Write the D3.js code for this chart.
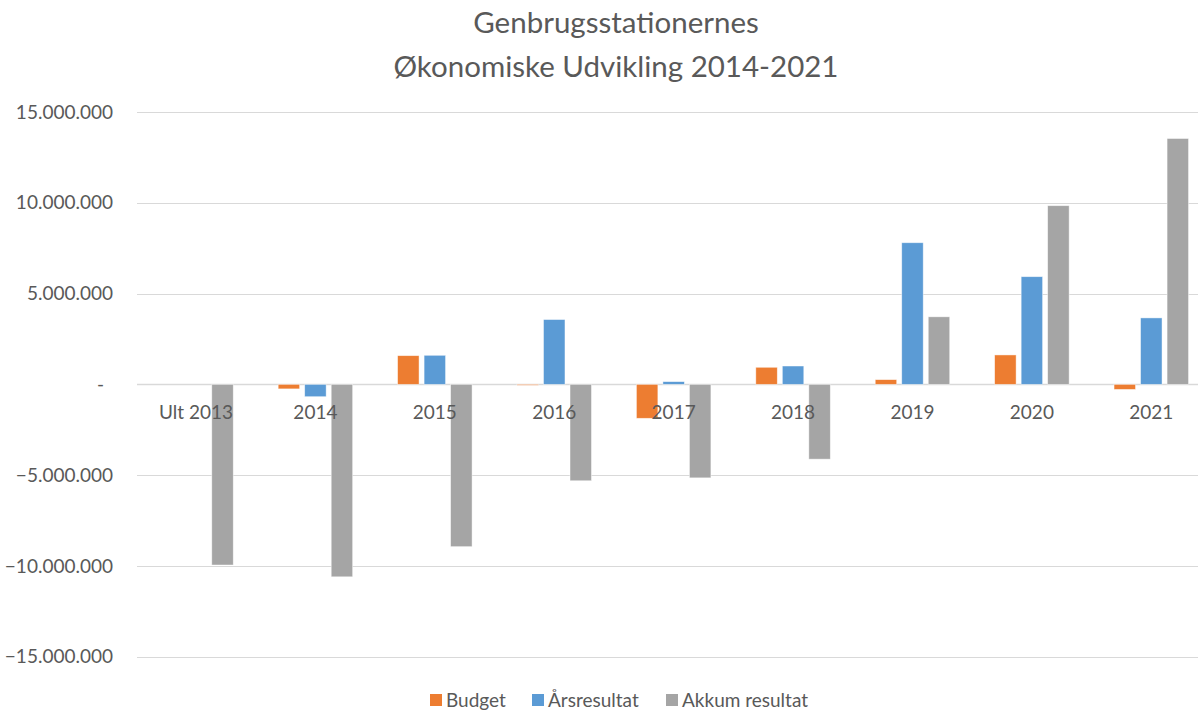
<!DOCTYPE html>
<html><head><meta charset="utf-8">
<script src="https://cdn.jsdelivr.net/npm/d3@7"></script>
<style>body{margin:0;background:#fff;} svg{display:block;font-family:Lato,"Open Sans",sans-serif;}</style>
</head><body>
<script>
const categories = ["Ult 2013","2014","2015","2016","2017","2018","2019","2020","2021"];
const seriesNames = ["Budget","Årsresultat","Akkum resultat"];
const budget      = [0, -250000, 1580000, -50000, -1870000, 940000, 260000, 1620000, -280000];
const aarsresultat= [0, -680000, 1600000, 3570000, 150000, 1010000, 7800000, 5930000, 3660000];
const akkum       = [-9950000, -10600000, -8940000, -5310000, -5150000, -4120000, 3720000, 9840000, 13540000];
const yTicks = [-15000000,-10000000,-5000000,0,5000000,10000000,15000000];
const colors = ["#ED7D31","#5B9BD5","#A5A5A5"];

const W=1198,H=712;
const svg=d3.select("body").append("svg").attr("width",W).attr("height",H);
const seriesData=[budget,aarsresultat,akkum];

const y=d3.scaleLinear().domain([-15000000,15000000]).range([656.7,112]);
const x0=d3.scaleBand().domain(categories).range([136.3,1211]).padding(0);
const bw=x0.bandwidth();
const gw=74.5;
const x1=d3.scaleBand().domain(seriesNames).range([(bw-gw)/2,(bw+gw)/2]).paddingInner(0.19);

// title
svg.append("text").attr("x",616).attr("y",33).attr("text-anchor","middle").attr("fill","#595959").attr("font-size",29.5).text("Genbrugsstationernes");
svg.append("text").attr("x",616).attr("y",77).attr("text-anchor","middle").attr("fill","#595959").attr("font-size",29.5).text("Økonomiske Udvikling 2014-2021");

// grid
const fmt=v=> v===0? "-" : d3.format(",")(v).replace(/,/g,".");
svg.append("g").selectAll("line").data(yTicks).join("line")
 .attr("x1",137).attr("x2",W).attr("y1",d=>Math.round(y(d))+0.5).attr("y2",d=>Math.round(y(d))+0.5)
 .attr("stroke","#d9d9d9").attr("stroke-width",d=>d===0?1.5:1);
svg.append("g").selectAll("text").data(yTicks).join("text")
 .attr("x",d=>d===0?104:113).attr("y",d=>y(d)).attr("dy","0.35em").attr("text-anchor","end")
 .attr("fill","#595959").attr("font-size",19).text(fmt);

// bars
const g=svg.append("g");
seriesData.forEach((arr,si)=>{
  g.append("g").selectAll("rect").data(arr.map((v,i)=>({v,c:categories[i]}))).join("rect")
   .attr("x",d=>x0(d.c)+x1(seriesNames[si]))
   .attr("width",x1.bandwidth())
   .attr("y",d=>y(Math.max(0,d.v)))
   .attr("height",d=>Math.abs(y(d.v)-y(0)))
   .attr("fill",colors[si]).attr("stroke","#fff").attr("stroke-opacity",0.6).attr("stroke-width",0.75);
});

// category labels
svg.append("g").selectAll("text").data(categories).join("text")
 .attr("x",d=>x0(d)+bw/2).attr("y",419).attr("text-anchor","middle")
 .attr("fill","#595959").attr("font-size",19).text(d=>d);

// legend
const leg=[{n:"Budget",x:430},{n:"Årsresultat",x:532},{n:"Akkum resultat",x:666}];
leg.forEach((l,i)=>{
  svg.append("rect").attr("x",l.x).attr("y",694).attr("width",12).attr("height",12).attr("fill",colors[i]);
  svg.append("text").attr("x",l.x+16).attr("y",707).attr("fill","#595959").attr("font-size",19).text(l.n);
});
</script>
</body></html>
